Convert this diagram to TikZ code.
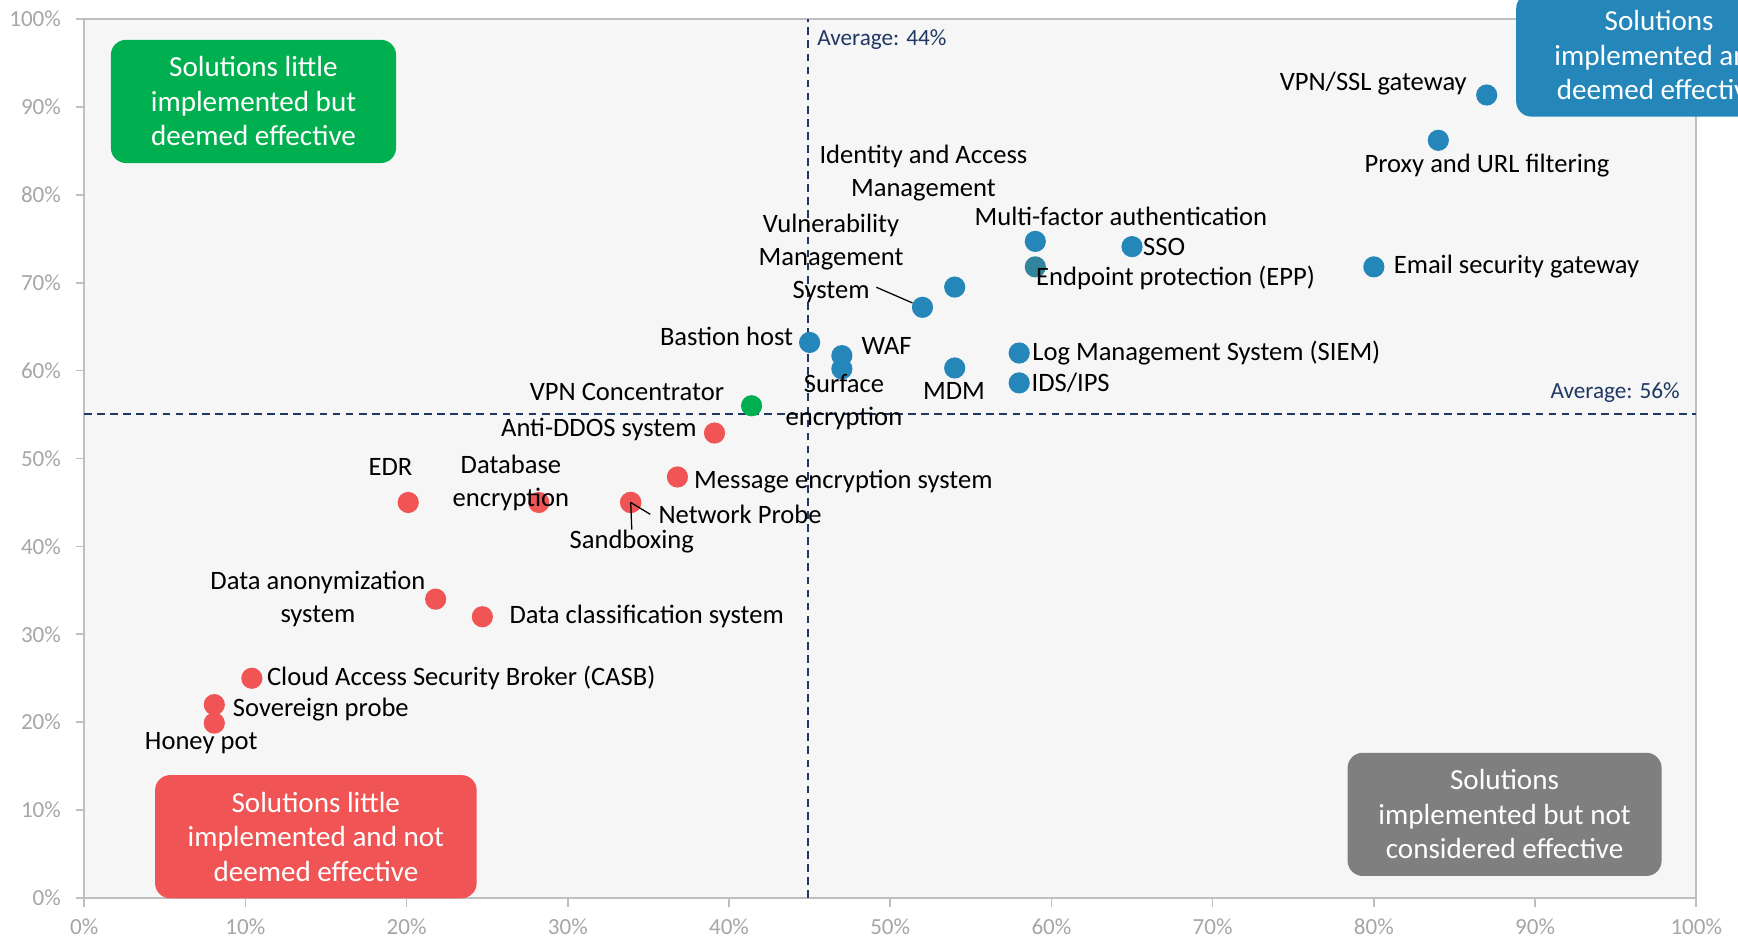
\documentclass[tikz,border=0pt]{standalone}
\usepackage{fontspec}
\setmainfont{Carlito}
\usetikzlibrary{positioning}

\definecolor{plotbg}{HTML}{F6F6F6}
\definecolor{axisgray}{HTML}{BFBFBF}
\definecolor{ticktext}{HTML}{A6A6A6}
\definecolor{avgnavy}{HTML}{1F3864}
\definecolor{dotblue}{HTML}{2586BA}
\definecolor{dotred}{HTML}{F05454}
\definecolor{dotgreen}{HTML}{00B050}
\definecolor{dotteal}{HTML}{31859C}
\definecolor{boxgray}{HTML}{7F7F7F}

\tikzset{
  pt/.style={circle,inner sep=0pt,minimum size=0.53cm},
  bdot/.style={pt,fill=dotblue},
  rdot/.style={pt,fill=dotred},
  gdot/.style={pt,fill=dotgreen},
  lbl/.style={inner sep=0pt,align=center,font=\fontsize{18.9}{23.5}\selectfont},
  quad/.style={rounded corners=0.38cm,text=white,align=center,minimum height=3.08cm,
    font=\fontsize{20.7}{24.5}\selectfont},
  ticklbl/.style={inner sep=0pt,text=ticktext,font=\fontsize{16.4}{19}\selectfont},
  avg/.style={avgnavy,line width=1.2pt,dash pattern=on 5.5pt off 3.8pt},
  avglbl/.style={inner sep=0pt,text=avgnavy,font=\fontsize{16.5}{20}\selectfont},
  leader/.style={black,line width=0.9pt}
}

\begin{document}
\begin{tikzpicture}[x=0.403cm,y=0.21975cm]
   \useasboundingbox (-5.223,-4.778) rectangle (102.59,102.16);
   \clip (-5.223,-4.778) rectangle (102.59,102.16);

   % plot area and axes
   \fill[plotbg] (0,0) rectangle (100,100);
   \draw[axisgray,line width=1.2pt] (0,0) rectangle (100,100);
   \foreach \v in {0,10,...,100} {
      \draw[axisgray,line width=1.2pt] (-0.48,\v) -- (0,\v);
      \draw[axisgray,line width=1.2pt] (\v,0) -- (\v,-1);
      \node[ticklbl,anchor=east] (ytick\v) at (-1.43,\v) {\v\%};
      \node[ticklbl] (xtick\v) at (\v,-3.3) {\v\%};
   }

   % averages
   \coordinate (vbot) at (44.9,0);
   \coordinate (vtop) at (44.9,100);
   \coordinate (hleft) at (0,55.1);
   \coordinate (hright) at (100,55.1);
   \draw[avg] (vbot) -- (vtop);
   \draw[avg] (hleft) -- (hright);
   \node[avglbl,anchor=west] (avgx) at (45.46,97.62) {Average: 44\%};
   \node[avglbl,anchor=east] (avgy) at (98.99,57.49) {Average: 56\%};

   % quadrants
   \node[quad,fill=dotgreen,minimum width=7.13cm] (qtl) at (10.50,90.62) {Solutions little\\implemented but\\deemed effective};
   \node[quad,fill=dotred,minimum width=8.04cm] (qbl) at (14.37,6.98) {Solutions little\\implemented and not\\deemed effective};
   \node[quad,fill=boxgray,minimum width=7.85cm] (qbr) at (88.11,9.52) {Solutions\\implemented but not\\considered effective};
   \node[quad,fill=dotblue,minimum width=7.15cm] (qtr) at (97.7,95.9) {Solutions\\implemented and\\deemed effective};

   % solutions
   \node[bdot] (vpnssl) at (87,91.35) {};
   \node[bdot] (proxy) at (84,86.2) {};
   \node[bdot] (email) at (80,71.8) {};
   \node[bdot] (mfa) at (59,74.7) {};
   \node[pt,fill=dotteal] (epp) at (59,71.8) {};
   \node[bdot] (sso) at (65,74.1) {};
   \node[bdot] (iam) at (54,69.5) {};
   \node[bdot] (vms) at (52,67.2) {};
   \node[bdot] (bastion) at (45,63.2) {};
   \node[bdot] (waf) at (47,61.7) {};
   \node[bdot] (surface) at (47,60.2) {};
   \node[bdot] (mdm) at (54,60.3) {};
   \node[bdot] (siem) at (58,62) {};
   \node[bdot] (ids) at (58,58.6) {};
   \node[gdot] (vpnconc) at (41.4,56) {};
   \node[rdot] (ddos) at (39.1,52.9) {};
   \node[rdot] (msgenc) at (36.8,47.9) {};
   \node[rdot] (netprobe) at (33.9,45) {};
   \node[rdot] (sandbox) at (33.9,45) {};
   \node[rdot] (edr) at (20.1,45) {};
   \node[rdot] (dbenc) at (28.2,45) {};
   \node[rdot] (anon) at (21.8,34) {};
   \node[rdot] (dclass) at (24.7,32) {};
   \node[rdot] (casb) at (10.4,25) {};
   \node[rdot] (sovprobe) at (8.07,22) {};
   \node[rdot] (honeypot) at (8.07,19.9) {};

   % labels
   \node[lbl,anchor=east] (vpnssl-l) at (85.78,92.68) {VPN/SSL gateway};
   \node[lbl] (proxy-l) at (87.02,83.31) {Proxy and URL filtering};
   \node[lbl,right=0.22cm of email] (email-l) {Email security gateway};
   \node[lbl] (iam-l) at (52.06,82.48) {Identity and Access\\Management};
   \node[lbl,anchor=west] (mfa-l) at (55.22,77.59) {Multi-factor authentication};
   \node[lbl,right=0pt of sso] (sso-l) {SSO};
   \node[lbl,anchor=west] (epp-l) at (59.04,70.53) {Endpoint protection (EPP)};
   \node[lbl] (vms-l) at (46.33,72.81) {Vulnerability\\Management\\System};
   \node[lbl,anchor=east] (bastion-l) at (43.99,63.94) {Bastion host};
   \node[lbl,anchor=west] (waf-l) at (48.21,62.80) {WAF};
   \node[lbl] (surface-l) at (47.13,56.39) {Surface\\encryption};
   \node[lbl] (mdm-l) at (53.96,57.71) {MDM};
   \node[lbl,right=0.05cm of siem] (siem-l) {Log Management System (SIEM)};
   \node[lbl,right=0.03cm of ids] (ids-l) {IDS/IPS};
   \node[lbl,anchor=east] (vpnconc-l) at (39.71,57.60) {VPN Concentrator};
   \node[lbl,anchor=east] (ddos-l) at (38.00,53.32) {Anti-DDOS system};
   \node[lbl,anchor=west] (msgenc-l) at (37.82,47.36) {Message encryption system};
   \node[lbl,anchor=west] (netprobe-l) at (35.61,43.65) {Network Probe};
   \node[lbl] (sandbox-l) at (33.97,40.56) {Sandboxing};
   \node[lbl] (edr-l) at (19.0,49.07) {EDR};
   \node[lbl] (dbenc-l) at (26.47,47.18) {Database\\encryption};
   \node[lbl] (anon-l) at (14.50,34.02) {Data anonymization\\system};
   \node[lbl,right=0.4cm of dclass] (dclass-l) {Data classification system};
   \node[lbl,right=0.1cm of casb] (casb-l) {Cloud Access Security Broker (CASB)};
   \node[lbl,anchor=west] (sovprobe-l) at (9.21,21.47) {Sovereign probe};
   \node[lbl] (honeypot-l) at (7.26,17.60) {Honey pot};

   % leader lines
   \coordinate (vms-end) at (49.14,69.48);
   \draw[leader] (vms-end) -- (vms);
   \draw[leader] ([xshift=-0.2cm]netprobe-l.west) -- (netprobe.center);
   \draw[leader] (sandbox-l.north) -- (sandbox.center);
\end{tikzpicture}
\end{document}
